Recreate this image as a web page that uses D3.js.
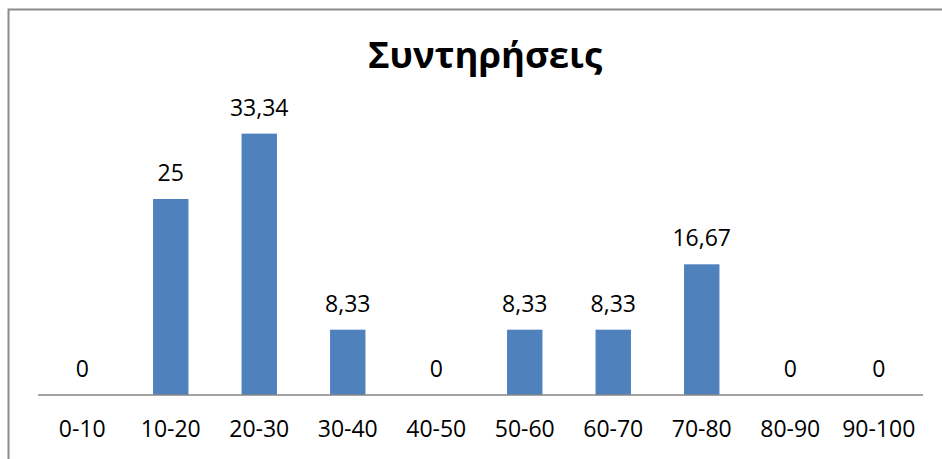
<!DOCTYPE html>
<html><head><meta charset="utf-8">
<script src="https://cdn.jsdelivr.net/npm/d3@7"></script>
<style>body{margin:0;background:#fff}svg{display:block}</style>
</head><body>
<script>
const title = "Συντηρήσεις";
const categories = ["0-10","10-20","20-30","30-40","40-50","50-60","60-70","70-80","80-90","90-100"];
const values = [0, 25, 33.34, 8.33, 0, 8.33, 8.33, 16.67, 0, 0];
const valueLabels = ["0","25","33,34","8,33","0","8,33","8,33","16,67","0","0"];

const W = 942, H = 459;
const svg = d3.select("body").append("svg").attr("width", W).attr("height", H);
svg.append("rect").attr("width", W).attr("height", H).attr("fill", "#fff");
svg.append("rect").attr("x", 8.5).attr("y", 9.5).attr("width", W + 20).attr("height", H + 20)
  .attr("fill", "none").attr("stroke", "#8c8c8c").attr("stroke-width", 2);

const x = d3.scaleBand().domain(categories).range([38, 923]).paddingInner(0.6).paddingOuter(0.3);
const y = d3.scaleLinear().domain([0, 40]).range([395, 81.4]);
const font = "'Open Sans', Lato, sans-serif";

svg.append("text").attr("x", 485).attr("y", 68).attr("text-anchor", "middle")
  .attr("font-family", font).attr("font-weight", "bold").attr("font-size", 36.5)
  .attr("fill", "#000").text(title);

svg.selectAll("rect.bar").data(values).join("rect").attr("class", "bar")
  .attr("x", (d, i) => x(categories[i])).attr("width", x.bandwidth())
  .attr("y", d => y(d)).attr("height", d => y(0) - y(d)).attr("fill", "#4F81BD");

svg.selectAll("text.vl").data(values).join("text").attr("class", "vl")
  .attr("x", (d, i) => x(categories[i]) + x.bandwidth() / 2)
  .attr("y", d => y(d) - 18).attr("text-anchor", "middle")
  .attr("font-family", font).attr("font-size", 23).attr("fill", "#000")
  .text((d, i) => valueLabels[i]);

const axis = d3.axisBottom(x).tickSize(0).tickPadding(14);
const g = svg.append("g").attr("transform", "translate(0,395)").call(axis);
g.select(".domain").attr("stroke", "#868686").attr("stroke-width", 1.5).attr("d", "M38,0H923");
g.selectAll("text").attr("font-family", font).attr("font-size", 23).attr("fill", "#000")
  .attr("dy", null).attr("y", 42);
</script>
</body></html>
